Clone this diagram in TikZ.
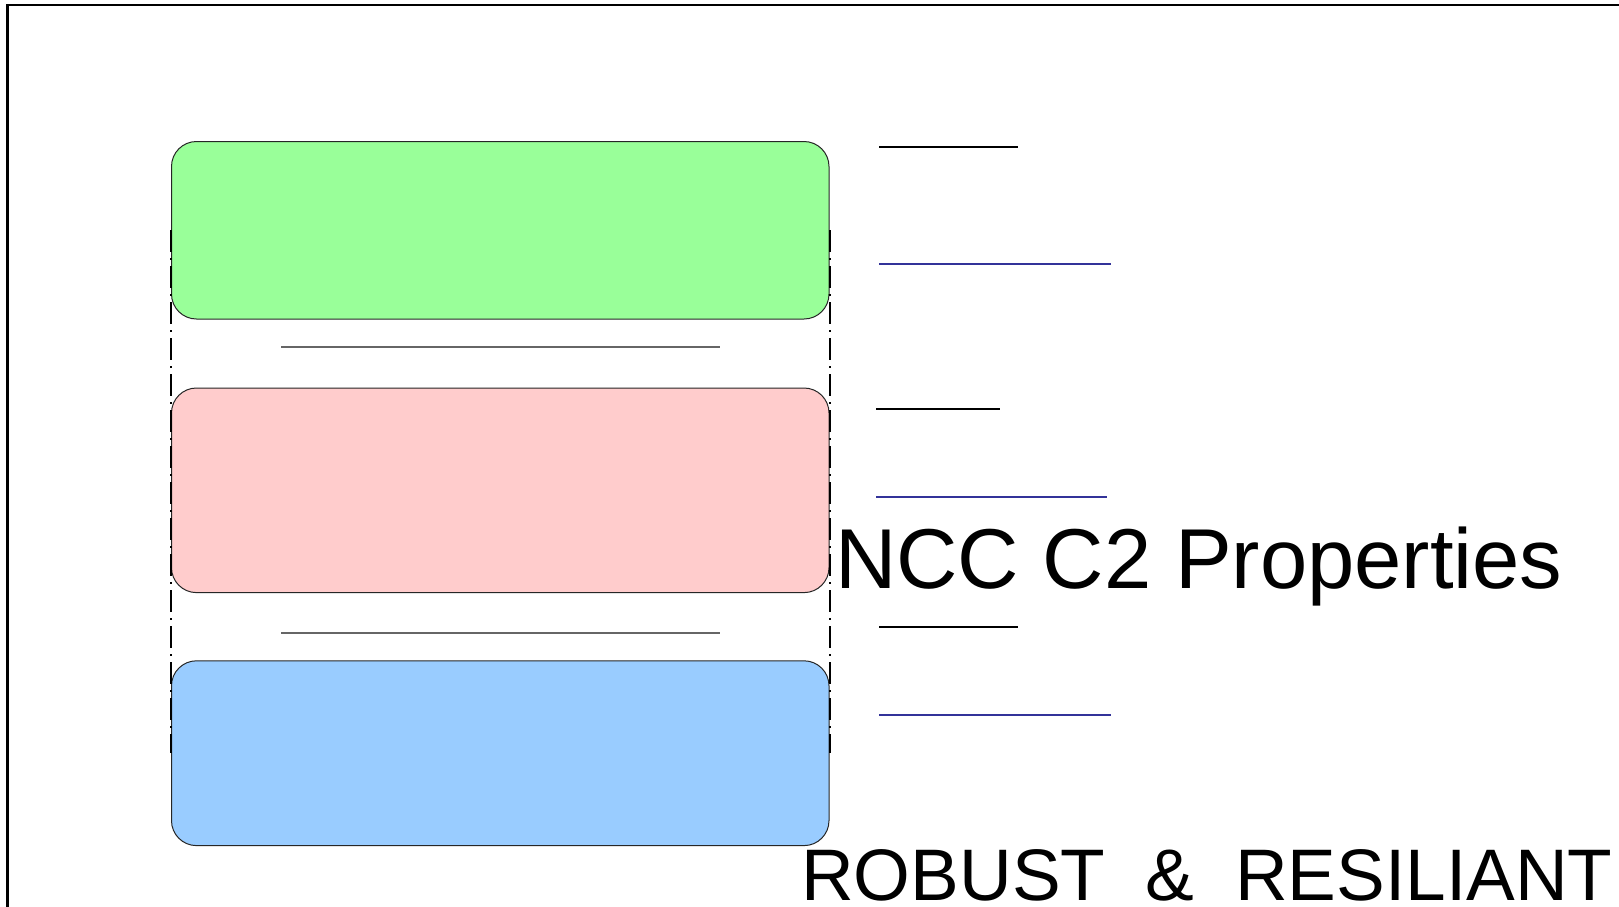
\documentclass[tikz,border=0pt]{standalone}
\usepackage{fontspec}
\setmainfont{Liberation Sans}
\definecolor{boxgreen}{HTML}{99FF99}
\definecolor{boxpink}{HTML}{FFCCCC}
\definecolor{boxblue}{HTML}{99CCFF}
\definecolor{lineblue}{HTML}{333399}
\definecolor{linegray}{HTML}{666666}
\begin{document}
\begin{tikzpicture}[x=1pt,y=-1pt,
  layerbox/.style={draw=black!85, line width=1pt, rounded corners=25pt, minimum width=657.5pt, inner sep=0pt},
  dashdot/.style={draw=black, line width=2pt, dash pattern=on 22pt off 6pt on 2pt off 6pt},
  blackrule/.style={draw=black, line width=2pt},
  bluerule/.style={draw=lineblue, line width=2pt},
  grayrule/.style={draw=linegray, line width=2.2pt},
  bigtext/.style={inner sep=0pt, anchor=base west, text=black}]
\useasboundingbox (0,0) rectangle (1619,906);
\clip (0,0) rectangle (1619,906);
\fill[white] (0,0) rectangle (1619,906);
% frame
\draw[line width=2.5pt] (7.5,1100) -- (7.5,5) -- (1800,5);
% boxes
\node[layerbox, fill=boxgreen, minimum height=177.5pt] (green) at (500.25,230.25) {};
\node[layerbox, fill=boxpink, minimum height=204.6pt] (pink) at (500.25,490.3) {};
\node[layerbox, fill=boxblue, minimum height=184.8pt] (blue) at (500.25,753.2) {};
% dash-dot connectors
\draw[dashdot] (green.west) -- (blue.west);
\draw[dashdot] (green.east) -- (blue.east);
% gray separators
\draw[grayrule] (281,347) -- (720,347);
\draw[grayrule] (281,633) -- (720,633);
% right rules
\draw[blackrule] (879,147) -- (1018,147);
\draw[bluerule] (879,264) -- (1111,264);
\draw[blackrule] (876,409) -- (1000,409);
\draw[bluerule] (876,497) -- (1107,497);
\draw[blackrule] (879,627) -- (1018,627);
\draw[bluerule] (879,715) -- (1111,715);
% texts
\node[bigtext, font=\fontsize{85}{100}\selectfont] (title) at (835,588.3) {NCC C2 Properties};
\node[bigtext, font=\fontsize{73}{88}\selectfont] (motto) at (801,900) {ROBUST~~\&~~RESILIANT};
\end{tikzpicture}
\end{document}
